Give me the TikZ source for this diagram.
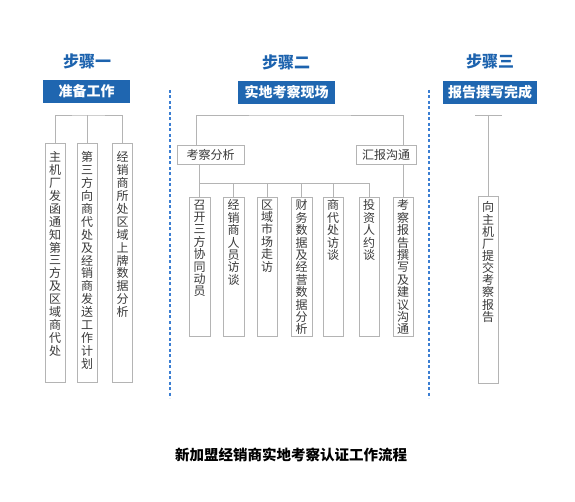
\documentclass[tikz,border=0pt]{standalone}
\usepackage{fontspec}
\setmainfont{Noto Sans CJK SC}
\definecolor{hdrblue}{HTML}{1F66B0}
\definecolor{ttlblue}{HTML}{1D63AE}
\definecolor{dashblue}{HTML}{3B7ED2}
\definecolor{boxgray}{HTML}{B4B4B4}
\definecolor{txtgray}{HTML}{3A3A3A}
\tikzset{
  steptitle/.style={font=\fontsize{16}{18}\selectfont\bfseries, text=ttlblue, inner sep=0pt},
  hdr/.style={fill=hdrblue, text=white, font=\fontsize{14}{16}\selectfont\bfseries, inner sep=0pt},
  gbox/.style={draw=boxgray, line width=0.9pt, fill=white, inner sep=0pt},
  vtxtA/.style={text=txtgray, font=\fontsize{12}{12.9}\selectfont, align=center, inner sep=0pt, anchor=north},
  vtxtB/.style={text=txtgray, font=\fontsize{12}{12.4}\selectfont, align=center, inner sep=0pt, anchor=north},
  vtxtC/.style={text=txtgray, font=\fontsize{12}{12.15}\selectfont, align=center, inner sep=0pt, anchor=north},
  htxt/.style={text=txtgray, font=\fontsize{12}{14}\selectfont, inner sep=0pt},
  conn/.style={draw=boxgray, line width=0.9pt},
  sep/.style={draw=dashblue, line width=1.1pt, dash pattern=on 3pt off 2.5pt},
}
\begin{document}
\begin{tikzpicture}[x=1pt,y=-1pt]
\useasboundingbox (0,0) rectangle (575,502);
% dashed separators
\coordinate (d1t) at (170,90); \coordinate (d1b) at (170,398);
\coordinate (d2t) at (429,90); \coordinate (d2b) at (429,398);
\draw[sep] (d1t) -- (d1b);
\draw[sep] (d2t) -- (d2b);
% titles
\node[steptitle] (t1) at (87,61) {步骤一};
\node[steptitle] (t2) at (286,62) {步骤二};
\node[steptitle] (t3) at (490,61) {步骤三};
% header boxes
\node[hdr, minimum width=87pt, minimum height=23pt] (h1) at (86.5,91.5) {准备工作};
\node[hdr, minimum width=97pt, minimum height=23pt] (h2) at (286.5,92.5) {实地考察现场};
\node[hdr, minimum width=94pt, minimum height=23pt] (h3) at (490,92.5) {报告撰写完成};
% ---------- step 1 ----------
\node[gbox, minimum width=20pt, minimum height=239pt] (a1) at (55,262.5) {};
\node[gbox, minimum width=20pt, minimum height=239pt] (a2) at (87,262.5) {};
\node[gbox, minimum width=20pt, minimum height=239pt] (a3) at (122.5,262.5) {};
\node[vtxtA] at ([yshift=-9pt]a1.north) {主\\机\\厂\\发\\函\\通\\知\\第\\三\\方\\及\\区\\域\\商\\代\\处};
\node[vtxtA] at ([yshift=-9pt]a2.north) {第\\三\\方\\向\\商\\代\\处\\及\\经\\销\\商\\发\\送\\工\\作\\计\\划};
\node[vtxtA] at ([yshift=-9pt]a3.north) {经\\销\\商\\所\\处\\区\\域\\上\\牌\\数\\据\\分\\析};
\coordinate (k1) at (88,115);
\draw[conn] (a1.north) |- (k1) -| (a3.north);
\draw[conn] (a2.north) -- (a2.north|-k1);
% ---------- step 2 ----------
\node[gbox, minimum width=67pt, minimum height=19pt] (m1) at (210.5,154.5) {};
\node[htxt] at (m1) {考察分析};
\node[gbox, minimum width=60pt, minimum height=19pt] (m2) at (386,154.5) {};
\node[htxt] at (m2) {汇报沟通};
\coordinate (k2) at (300,115);
\coordinate (m1in) at (196,145);
\coordinate (m2in) at (403,145);
\draw[conn] (m1in) |- (k2) -| (m2in);
% leaves
\node[gbox, minimum width=21pt, minimum height=139pt] (b1) at (199.5,266.5) {};
\node[gbox, minimum width=21pt, minimum height=139pt] (b2) at (233.5,266.5) {};
\node[gbox, minimum width=20pt, minimum height=139pt] (b3) at (267,266.5) {};
\node[gbox, minimum width=21pt, minimum height=139pt] (b4) at (301.5,266.5) {};
\node[gbox, minimum width=20pt, minimum height=139pt] (b5) at (333,266.5) {};
\node[gbox, minimum width=20pt, minimum height=139pt] (b6) at (369,266.5) {};
\node[gbox, minimum width=20pt, minimum height=139pt] (b7) at (403,266.5) {};
\node[vtxtB] at ([yshift=-3pt]b1.north) {召\\开\\三\\方\\协\\同\\动\\员};
\node[vtxtB] at ([yshift=-3pt]b2.north) {经\\销\\商\\人\\员\\访\\谈};
\node[vtxtB] at ([yshift=-3pt]b3.north) {区\\域\\市\\场\\走\\访};
\node[vtxtB] at ([yshift=-3pt]b4.north) {财\\务\\数\\据\\及\\经\\营\\数\\据\\分\\析};
\node[vtxtB] at ([yshift=-3pt]b5.north) {商\\代\\处\\访\\谈};
\node[vtxtB] at ([yshift=-3pt]b6.north) {投\\资\\人\\约\\谈};
\node[vtxtB] at ([yshift=-3pt]b7.north) {考\\察\\报\\告\\撰\\写\\及\\建\\议\\沟\\通};
\coordinate (k3) at (200,183);
\draw[conn] (m1.south-|b1.north) -- (b1.north);
\draw[conn] (k3) -| (b2.north);
\draw[conn] (k3) -| (b3.north);
\draw[conn] (k3) -| (b4.north);
\draw[conn] (k3) -| (b5.north);
\draw[conn] (k3) -| (b6.north);
\draw[conn] (m2.south-|b7.north) -- (b7.north);
% ---------- step 3 ----------
\node[gbox, minimum width=20pt, minimum height=187pt] (c1) at (488,289.5) {};
\node[vtxtC] at ([yshift=-6pt]c1.north) {向\\主\\机\\厂\\提\\交\\考\\察\\报\\告};
\coordinate (tl) at (475,115);
\coordinate (tr) at (502,115);
\draw[conn] (tl) -- (tr);
\draw[conn] (c1.north|-tl) -- (c1.north);
% caption
\node[font=\fontsize{14.5}{16}\selectfont\bfseries, text=black, inner sep=0pt] (cap) at (291,455) {新加盟经销商实地考察认证工作流程};
\end{tikzpicture}
\end{document}
